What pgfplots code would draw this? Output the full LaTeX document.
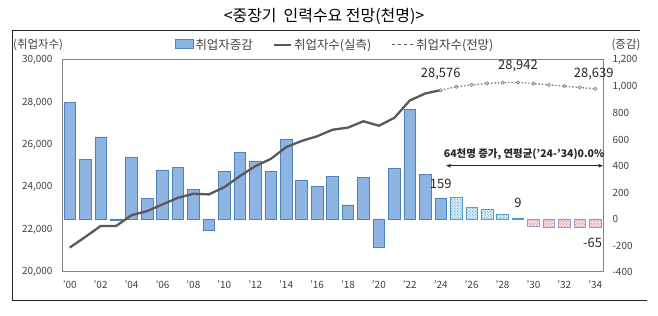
\documentclass[border=0pt]{standalone}
\usepackage{pgfplots}
\pgfplotsset{compat=1.18}
\usepackage{fontspec}
\setmainfont{Noto Sans CJK KR}
\usetikzlibrary{patterns,arrows.meta}
\definecolor{barA}{RGB}{141,180,226}
\definecolor{barB}{RGB}{200,220,244}
\definecolor{barline}{RGB}{79,129,189}
\definecolor{upfill}{RGB}{218,238,247}
\definecolor{updot}{RGB}{60,140,190}
\definecolor{upline}{RGB}{75,160,200}
\definecolor{dnfill}{RGB}{247,224,234}
\definecolor{dndot}{RGB}{205,95,125}
\definecolor{dnline}{RGB}{160,150,190}
\definecolor{linegray}{RGB}{89,89,89}
\definecolor{boxgray}{RGB}{130,130,130}
\definecolor{labgray}{RGB}{64,64,64}
\begin{document}
\begin{tikzpicture}
\useasboundingbox (0bp,0bp) rectangle (658bp,316bp);
\draw[line width=0.8bp, black!85] (640bp,286bp) -- (12bp,286bp) -- (12bp,16bp) -- (647bp,16bp);
\node[font=\fontsize{16}{18}\selectfont, text=black] at (324bp,300bp) {<중장기\ \ 인력수요 전망(천명)>};
% bars axis (right scale)
\begin{axis}[
  at={(62bp,44bp)}, anchor=south west, width=541bp, height=212bp, scale only axis,
  xmin=-0.5, xmax=34.5, ymin=-400, ymax=1200,
  xtick={0,2,...,34},
  xticklabels={{'00},{'02},{'04},{'06},{'08},{'10},{'12},{'14},{'16},{'18},{'20},{'22},{'24},{'26},{'28},{'30},{'32},{'34}},
  ytick={-400,-200,...,1200},
  yticklabel pos=right,
  scaled ticks=false,
  major tick length=0pt,
  axis line style={draw=boxgray, line width=1bp},
  tick label style={font=\fontsize{10}{12}\selectfont, text=labgray},
  xticklabel style={yshift=-5bp},
  yticklabel style={xshift=6bp},
  /pgf/number format/1000 sep={,},
  /pgf/number format/assume math mode=true,
  clip=false,
]
\addplot[ybar, bar width=0.75, bar shift=0pt, draw=barline, line width=0.6bp,
  shading=axis, left color=barA, middle color=barB, right color=barA, shading angle=0] coordinates {
(0,880) (1,448) (2,620) (3,-8) (4,465) (5,158) (6,370) (7,387) (8,226) (9,-83)
(10,357) (11,500) (12,438) (13,357) (14,604) (15,289) (16,244) (17,322) (18,106) (19,312)
(20,-211) (21,382) (22,825) (23,337) (24,159)
};
\addplot[ybar, bar width=0.75, bar shift=0pt, draw=upline, line width=0.6bp, fill=upfill,
  postaction={pattern=crosshatch dots, pattern color=updot}] coordinates {
(25,162) (26,86) (27,74) (28,35) (29,9)
};
\addplot[ybar, bar width=0.75, bar shift=0pt, draw=dnline, line width=0.6bp, fill=dnfill,
  postaction={pattern=crosshatch dots, pattern color=dndot}] coordinates {
(30,-55) (31,-60) (32,-62) (33,-61) (34,-65)
};
\node[font=\fontsize{13}{14}\selectfont, text=black!85] at (axis cs:24,262) {159};
\node[font=\fontsize{13}{14}\selectfont, text=black!85] at (axis cs:29,118) {9};
\node[font=\fontsize{13}{14}\selectfont, text=black!85, anchor=east, inner sep=0pt] at (axis cs:34.45,-179) {-65};
\node[font=\bfseries\fontsize{10.5}{12}\selectfont, text=black!85] at (axis cs:29.4,485) {64천명 증가, 연평균('24-'34)0.0\%};
\draw[{Stealth[length=5bp]}-{Stealth[length=5bp]}, line width=0.8bp, black!85] (axis cs:24.35,402) -- (axis cs:34.5,402);
\end{axis}
% line axis (left scale)
\begin{axis}[
  at={(62bp,44bp)}, anchor=south west, width=541bp, height=212bp, scale only axis,
  xmin=-0.5, xmax=34.5, ymin=20000, ymax=30000,
  ytick={20000,22000,...,30000},
  scaled ticks=false,
  hide x axis,
  axis y line*=left,
  y axis line style={draw=none},
  major tick length=0pt,
  tick label style={font=\fontsize{10}{12}\selectfont, text=labgray},
  yticklabel style={xshift=-6bp},
  /pgf/number format/1000 sep={,},
  /pgf/number format/assume math mode=true,
  clip=false,
  legend columns=3,
  legend style={at={(0.505,1.072)}, anchor=center, draw=none, fill=none,
    font=\fontsize{12.5}{14}\selectfont, text=labgray,
    /tikz/every even column/.append style={column sep=18bp}},
]
\addlegendimage{legend image code/.code={\draw[fill=barA, draw=barline, line width=0.5bp] (0bp,-4bp) rectangle (18bp,5bp);}}
\addlegendentry{취업자증감}
\addplot[line width=2.3bp, color=linegray] coordinates {
(0,21150) (1,21650) (2,22170) (3,22170) (4,22680) (5,22870) (6,23190) (7,23500) (8,23690) (9,23660)
(10,24000) (11,24520) (12,24990) (13,25330) (14,25890) (15,26180) (16,26400) (17,26710) (18,26810) (19,27110)
(20,26900) (21,27270) (22,28090) (23,28420) (24,28576)
};
\addlegendentry{취업자수(실측)}
\addlegendimage{legend image code/.code={\draw[linegray, line width=1bp, dash pattern=on 3.5bp off 2.5bp] (0bp,0bp) -- (22bp,0bp);}}
\addlegendentry{취업자수(전망)}
\addplot[forget plot, line width=1.4bp, color=gray, dotted, mark=*, mark size=1.7bp,
  mark options={solid, fill=gray!25, draw=gray, line width=0.6bp}] coordinates {
(24,28576) (25,28738) (26,28824) (27,28898) (28,28933) (29,28942) (30,28887) (31,28827) (32,28765) (33,28704) (34,28639)
};
\node[font=\fontsize{13}{14}\selectfont, text=black!85] at (axis cs:24,29340) {28,576};
\node[font=\fontsize{13}{14}\selectfont, text=black!85] at (axis cs:29,29717) {28,942};
\node[font=\fontsize{13}{14}\selectfont, text=black!85] at (axis cs:33.9,29340) {28,639};
\end{axis}
\node[font=\fontsize{11.5}{13}\selectfont, text=labgray, anchor=west, inner sep=0pt] at (13bp,271bp) {(취업자수)};
\node[font=\fontsize{11.5}{13}\selectfont, text=labgray] at (626bp,271bp) {(증감)};
\end{tikzpicture}
\end{document}
